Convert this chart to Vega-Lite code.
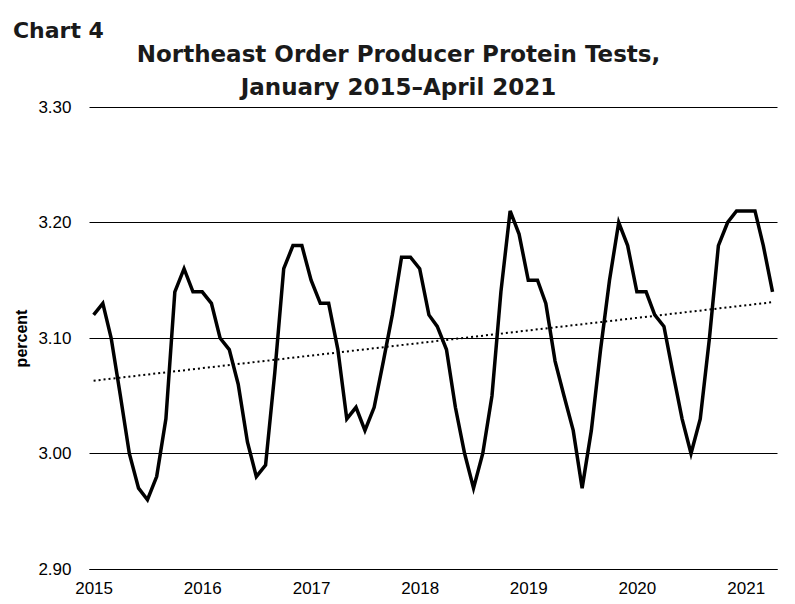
{
  "$schema": "https://vega.github.io/schema/vega-lite/v6.json",
  "width": 688,
  "height": 462,
  "autosize": {"type": "none"},
  "padding": {"left": 89, "top": 107, "right": 18, "bottom": 35},
  "background": "white",
  "title": {
    "text": "Chart 4",
    "anchor": "start",
    "frame": "bounds",
    "font": "DejaVu Sans",
    "fontSize": 22,
    "fontWeight": "bold",
    "color": "#1a1a1a",
    "offset": 0,
    "dx": -1
  },
  "datasets": {
    "protein": [
      {"date": "2015-01-01", "value": 3.12}, {"date": "2015-02-01", "value": 3.13}, {"date": "2015-03-01", "value": 3.10}, {"date": "2015-04-01", "value": 3.05},
      {"date": "2015-05-01", "value": 3.00}, {"date": "2015-06-01", "value": 2.97}, {"date": "2015-07-01", "value": 2.96}, {"date": "2015-08-01", "value": 2.98},
      {"date": "2015-09-01", "value": 3.03}, {"date": "2015-10-01", "value": 3.14}, {"date": "2015-11-01", "value": 3.16}, {"date": "2015-12-01", "value": 3.14},
      {"date": "2016-01-01", "value": 3.14}, {"date": "2016-02-01", "value": 3.13}, {"date": "2016-03-01", "value": 3.10}, {"date": "2016-04-01", "value": 3.09},
      {"date": "2016-05-01", "value": 3.06}, {"date": "2016-06-01", "value": 3.01}, {"date": "2016-07-01", "value": 2.98}, {"date": "2016-08-01", "value": 2.99},
      {"date": "2016-09-01", "value": 3.07}, {"date": "2016-10-01", "value": 3.16}, {"date": "2016-11-01", "value": 3.18}, {"date": "2016-12-01", "value": 3.18},
      {"date": "2017-01-01", "value": 3.15}, {"date": "2017-02-01", "value": 3.13}, {"date": "2017-03-01", "value": 3.13}, {"date": "2017-04-01", "value": 3.09},
      {"date": "2017-05-01", "value": 3.03}, {"date": "2017-06-01", "value": 3.04}, {"date": "2017-07-01", "value": 3.02}, {"date": "2017-08-01", "value": 3.04},
      {"date": "2017-09-01", "value": 3.08}, {"date": "2017-10-01", "value": 3.12}, {"date": "2017-11-01", "value": 3.17}, {"date": "2017-12-01", "value": 3.17},
      {"date": "2018-01-01", "value": 3.16}, {"date": "2018-02-01", "value": 3.12}, {"date": "2018-03-01", "value": 3.11}, {"date": "2018-04-01", "value": 3.09},
      {"date": "2018-05-01", "value": 3.04}, {"date": "2018-06-01", "value": 3.00}, {"date": "2018-07-01", "value": 2.97}, {"date": "2018-08-01", "value": 3.00},
      {"date": "2018-09-01", "value": 3.05}, {"date": "2018-10-01", "value": 3.14}, {"date": "2018-11-01", "value": 3.21}, {"date": "2018-12-01", "value": 3.19},
      {"date": "2019-01-01", "value": 3.15}, {"date": "2019-02-01", "value": 3.15}, {"date": "2019-03-01", "value": 3.13}, {"date": "2019-04-01", "value": 3.08},
      {"date": "2019-05-01", "value": 3.05}, {"date": "2019-06-01", "value": 3.02}, {"date": "2019-07-01", "value": 2.97}, {"date": "2019-08-01", "value": 3.02},
      {"date": "2019-09-01", "value": 3.09}, {"date": "2019-10-01", "value": 3.15}, {"date": "2019-11-01", "value": 3.20}, {"date": "2019-12-01", "value": 3.18},
      {"date": "2020-01-01", "value": 3.14}, {"date": "2020-02-01", "value": 3.14}, {"date": "2020-03-01", "value": 3.12}, {"date": "2020-04-01", "value": 3.11},
      {"date": "2020-05-01", "value": 3.07}, {"date": "2020-06-01", "value": 3.03}, {"date": "2020-07-01", "value": 3.00}, {"date": "2020-08-01", "value": 3.03},
      {"date": "2020-09-01", "value": 3.10}, {"date": "2020-10-01", "value": 3.18}, {"date": "2020-11-01", "value": 3.20}, {"date": "2020-12-01", "value": 3.21},
      {"date": "2021-01-01", "value": 3.21}, {"date": "2021-02-01", "value": 3.21}, {"date": "2021-03-01", "value": 3.18}, {"date": "2021-04-01", "value": 3.14}
    ],
    "trend": [
      {"date": "2015-01-01", "value": 3.063},
      {"date": "2021-04-01", "value": 3.131}
    ]
  },
  "layer": [
    {
      "data": {"name": "protein"},
      "mark": {"type": "line", "color": "black", "strokeWidth": 3.5, "strokeJoin": "miter"},
      "encoding": {
        "x": {
          "field": "date",
          "type": "temporal",
          "scale": {
            "type": "utc",
            "domain": [
              {"year": 2014, "month": 12, "date": 16, "hours": 12, "utc": true},
              {"year": 2021, "month": 4, "date": 16, "utc": true}
            ]
          },
          "axis": {
            "orient": "bottom",
            "title": null,
            "values": [
              {"year": 2015, "month": 1, "date": 1, "utc": true},
              {"year": 2016, "month": 1, "date": 1, "utc": true},
              {"year": 2017, "month": 1, "date": 1, "utc": true},
              {"year": 2018, "month": 1, "date": 1, "utc": true},
              {"year": 2019, "month": 1, "date": 1, "utc": true},
              {"year": 2020, "month": 1, "date": 1, "utc": true},
              {"year": 2021, "month": 1, "date": 1, "utc": true}
            ],
            "format": "%Y",
            "formatType": "utc",
            "labelFont": "Liberation Sans",
            "labelFontSize": 17,
            "labelColor": "black",
            "labelPadding": 11,
            "labelFlush": false,
            "labelOverlap": false,
            "ticks": false,
            "grid": false,
            "domain": true,
            "domainColor": "black",
            "domainWidth": 1
          }
        },
        "y": {
          "field": "value",
          "type": "quantitative",
          "scale": {"domain": [2.9, 3.3], "nice": false, "zero": false},
          "axis": {
            "values": [2.9, 3.0, 3.1, 3.2, 3.3],
            "format": ".2f",
            "labelFont": "Liberation Sans",
            "labelFontSize": 17,
            "labelColor": "black",
            "labelPadding": 18,
            "ticks": false,
            "domain": false,
            "grid": true,
            "gridColor": "black",
            "gridWidth": 1,
            "gridOpacity": 1,
            "title": "percent",
            "titleFont": "Liberation Sans",
            "titleFontSize": 16,
            "titleFontWeight": "bold",
            "titleColor": "black",
            "titlePadding": 8
          }
        }
      }
    },
    {
      "data": {"name": "trend"},
      "mark": {"type": "line", "color": "black", "strokeWidth": 2, "strokeDash": [2, 3]},
      "encoding": {
        "x": {
          "field": "date",
          "type": "temporal",
          "axis": {
            "orient": "top",
            "title": ["Northeast Order Producer Protein Tests,", "January 2015–April 2021"],
            "labels": false,
            "ticks": false,
            "domain": false,
            "grid": false,
            "titleFont": "DejaVu Sans",
            "titleFontSize": 23,
            "titleFontWeight": "bold",
            "titleColor": "#1a1a1a",
            "titleLineHeight": 33,
            "titlePadding": 8,
            "titleX": 309
          }
        },
        "y": {"field": "value", "type": "quantitative"}
      }
    }
  ],
  "resolve": {"axis": {"x": "independent"}},
  "config": {"view": {"stroke": null}}
}
